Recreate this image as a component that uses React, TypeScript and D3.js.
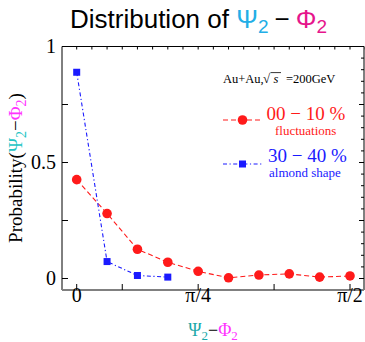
import React from "react";
import * as d3 from "d3";

const binIndex = [0, 1, 2, 3, 4, 5, 6, 7, 8, 9];
const central = [0.426, 0.28, 0.126, 0.07, 0.031, 0.003, 0.015, 0.02, 0.006, 0.011];
const midIndex = [0, 1, 2, 3];
const midCentral = [0.889, 0.073, 0.013, 0.006];
const xTickVals = [0, 1.5, 4, 6.5, 9];
const xTickLabels = [
  { v: 0, t: "0" },
  { v: 4, t: "π/4" },
  { v: 9, t: "π/2" },
];
const yTickVals = [0, 0.25, 0.5, 0.75, 1];
const yTickLabels = [
  { v: 0, t: "0" },
  { v: 0.5, t: "0.5" },
  { v: 1, t: "1" },
];

const W = 365;
const H = 342;
const frame = { left: 62, right: 364, top: 46.5, bottom: 290 };
const RED = "#ff1a1a";
const BLUE = "#1a1aff";
const CYAN = "#22aee6";
const MAG = "#e6158c";
const SERIF = "'Liberation Serif', 'DejaVu Serif', serif";
const SANS = "'Liberation Sans', Arial, sans-serif";

export default function App() {
  const x = d3.scaleLinear().domain([0, 9]).range([76.7, 350]);
  const y = d3.scaleLinear().domain([0, 1]).range([278.5, 46.5]);

  const redPts = binIndex.map((b, i) => [x(b), y(central[i])] as [number, number]);
  const bluePts = midIndex.map((b, i) => [x(b), y(midCentral[i])] as [number, number]);
  const line = d3.line();

  const topTicks = d3.range(0, 9.6, 0.5);
  const rightTicks = d3.range(0, 1.001, 0.05);

  return (
    <div style={{ position: "fixed", left: 0, top: 0 }}>
      <svg width={W} height={H} style={{ display: "block", background: "#fff" }}>
        {/* title */}
        <text x={70} y={28} fontFamily={SANS} fontSize={26} fill="#000">
          Distribution of{" "}
          <tspan fill={CYAN}>Ψ</tspan>
          <tspan fill={CYAN} fontSize={19} dy={5}>2</tspan>
          <tspan dy={-5} dx={6}>−</tspan>
          <tspan fill={MAG} dx={6}>Φ</tspan>
          <tspan fill={MAG} fontSize={19} dy={5}>2</tspan>
        </text>

        {/* frame */}
        <line x1={frame.left} x2={frame.right} y1={frame.top} y2={frame.top} stroke="#000" strokeWidth={1} />
        <line x1={frame.left} x2={frame.left} y1={frame.top} y2={frame.bottom} stroke="#000" strokeWidth={1} />
        <line x1={frame.right} x2={frame.right} y1={frame.top} y2={frame.bottom} stroke="#000" strokeWidth={1} />
        <line x1={frame.left} x2={frame.right} y1={frame.bottom} y2={frame.bottom} stroke="#808080" strokeWidth={2} />

        {/* top ticks */}
        {topTicks.map((t) => (
          <line key={"tt" + t} x1={x(t)} x2={x(t)} y1={frame.top} y2={frame.top + 3} stroke="#000" strokeWidth={1} />
        ))}
        {/* bottom ticks */}
        {xTickVals.map((t) => (
          <line key={"bt" + t} x1={x(t)} x2={x(t)} y1={frame.bottom} y2={frame.bottom - 6} stroke="#000" strokeWidth={1} />
        ))}
        {/* left ticks */}
        {yTickVals.map((t) => (
          <line key={"lt" + t} x1={frame.left} x2={frame.left + 6} y1={y(t)} y2={y(t)} stroke="#000" strokeWidth={1} />
        ))}
        {/* right ticks */}
        {rightTicks.map((t, i) => (
          <line
            key={"rt" + i}
            x1={frame.right}
            x2={frame.right - (i % 5 === 0 ? 5 : 3)}
            y1={y(t)}
            y2={y(t)}
            stroke="#000"
            strokeWidth={1}
          />
        ))}

        {/* tick labels */}
        {xTickLabels.map((d) => (
          <text key={"xl" + d.v} x={x(d.v)} y={302} textAnchor="middle" fontFamily={SERIF} fontSize={20} fill="#000">
            {d.t}
          </text>
        ))}
        {yTickLabels.map((d) => (
          <text key={"yl" + d.v} x={56} y={y(d.v) + 6.5} textAnchor="end" fontFamily={SERIF} fontSize={20} fill="#000">
            {d.t}
          </text>
        ))}

        {/* axis titles */}
        <text x={213} y={336} textAnchor="middle" fontFamily={SERIF} fontSize={18}>
          <tspan fill="#1aa8a8">Ψ</tspan>
          <tspan fill="#1aa8a8" fontSize={13} dy={4}>2</tspan>
          <tspan fill="#000" dy={-4}>−</tspan>
          <tspan fill="#ff33ff">Φ</tspan>
          <tspan fill="#ff33ff" fontSize={13} dy={4}>2</tspan>
        </text>
        <text
          transform={`translate(22, 168) rotate(-90)`}
          textAnchor="middle"
          fontFamily={SERIF}
          fontSize={19}
          fill="#000"
        >
          Probability(
          <tspan fill="#22c4c4">Ψ</tspan>
          <tspan fill="#22c4c4" fontSize={14} dy={4}>2</tspan>
          <tspan dy={-4}>−</tspan>
          <tspan fill="#ff33ff">Φ</tspan>
          <tspan fill="#ff33ff" fontSize={14} dy={4}>2</tspan>
          <tspan dy={-4}>)</tspan>
        </text>

        {/* series lines */}
        <path d={line(redPts) || ""} fill="none" stroke={RED} strokeWidth={1.1} strokeDasharray="5,3" />
        <path d={line(bluePts) || ""} fill="none" stroke={BLUE} strokeWidth={1.1} strokeDasharray="4,2.5,1.2,2.5" />
        {redPts.map((p, i) => (
          <circle key={"rc" + i} cx={p[0]} cy={p[1]} r={4.8} fill={RED} />
        ))}
        {bluePts.map((p, i) => (
          <rect key={"bs" + i} x={p[0] - 3.5} y={p[1] - 3.5} width={7} height={7} fill={BLUE} />
        ))}

        {/* legend */}
        <text x={223} y={83} fontFamily={SERIF} fontSize={12.5} fill="#000">Au+Au,</text>
        <text x={263} y={83} fontFamily={SERIF} fontSize={13} fill="#000">√</text>
        <text x={273.5} y={83} fontFamily={SERIF} fontSize={12.5} fontStyle="italic" fill="#000">s</text>
        <text x={286} y={83} fontFamily={SERIF} fontSize={12.5} fill="#000">=200GeV</text>
        <line x1={270.5} x2={281} y1={72.6} y2={72.6} stroke="#000" strokeWidth={0.8} />

        <line x1={223} x2={263} y1={120} y2={120} stroke={RED} strokeWidth={1.1} strokeDasharray="5,3" />
        <circle cx={242.5} cy={120} r={4.8} fill={RED} />
        <text x={266.5} y={119.5} fontFamily={SERIF} fontSize={19} fill={RED}>
          00 − 10 %
        </text>
        <text x={275} y={134.5} fontFamily={SERIF} fontSize={13} fill={RED}>
          fluctuations
        </text>

        <line x1={223} x2={263} y1={164} y2={164} stroke={BLUE} strokeWidth={1.1} strokeDasharray="4,2.5,1.2,2.5" />
        <rect x={239} y={160.5} width={7} height={7} fill={BLUE} />
        <text x={268} y={162} fontFamily={SERIF} fontSize={19} fill={BLUE}>
          30 − 40 %
        </text>
        <text x={269} y={177} fontFamily={SERIF} fontSize={13} fill={BLUE}>
          almond shape
        </text>
      </svg>
    </div>
  );
}
